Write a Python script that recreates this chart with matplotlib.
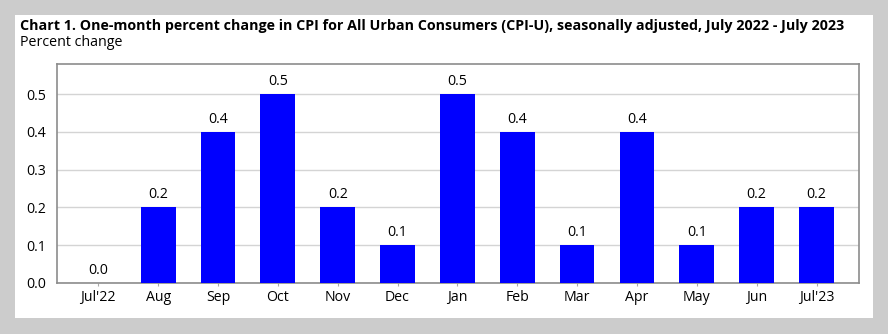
import matplotlib
matplotlib.use("Agg")
import matplotlib.pyplot as plt

plt.rcParams["font.family"] = ["Open Sans", "DejaVu Sans"]

months = ["Jul'22", "Aug", "Sep", "Oct", "Nov", "Dec", "Jan", "Feb", "Mar", "Apr", "May", "Jun", "Jul'23"]
values = [0.0, 0.2, 0.4, 0.5, 0.2, 0.1, 0.5, 0.4, 0.1, 0.4, 0.1, 0.2, 0.2]
yticks = [0.0, 0.1, 0.2, 0.3, 0.4, 0.5]

fig = plt.figure(figsize=(8.88, 3.34), dpi=100)
fig.patch.set_facecolor("#cccccc")
bg = fig.add_axes([15/888, 1-318/334, (873-15)/888, (318-15)/334], zorder=-1)
bg.set_facecolor("white")
bg.set_xticks([]); bg.set_yticks([])
for s in bg.spines.values():
    s.set_visible(False)

ax = fig.add_axes([57/888, 1-283/334, (859-57)/888, (283-64)/334], zorder=1)
ax.set_facecolor("white")
x = list(range(len(months)))
ax.bar(x, values, width=0.58, color="#0000ff", zorder=3)
for xi, v in zip(x, values):
    ax.text(xi, v + 0.014, f"{v:.1f}", ha="center", va="bottom", fontsize=10.2, color="black", zorder=4)

ax.set_xlim(-0.69, 12.71)
ax.set_ylim(0, 0.58)
ax.set_yticks(yticks)
ax.set_yticklabels([f"{t:.1f}" for t in yticks], fontsize=10.2)
ax.set_xticks(x)
ax.set_xticklabels(months, fontsize=10.2)
ax.yaxis.grid(True, color="#d4d4d4", linewidth=1, zorder=0)
ax.set_axisbelow(True)
ax.tick_params(axis="y", length=0, pad=8)
ax.tick_params(axis="x", length=2, color="#aaaaaa", pad=3)
for s in ax.spines.values():
    s.set_color("#8c8c8c")
    s.set_linewidth(1.2)

fig.text(20/888, 1-26/334, "Chart 1. One-month percent change in CPI for All Urban Consumers (CPI-U), seasonally adjusted, July 2022 - July 2023",
         fontsize=10.3, fontweight="bold", va="center", ha="left")
fig.text(20/888, 1-43/334, "Percent change", fontsize=10.3, va="center", ha="left")

fig.savefig("out.png", dpi=100, facecolor=fig.get_facecolor())
